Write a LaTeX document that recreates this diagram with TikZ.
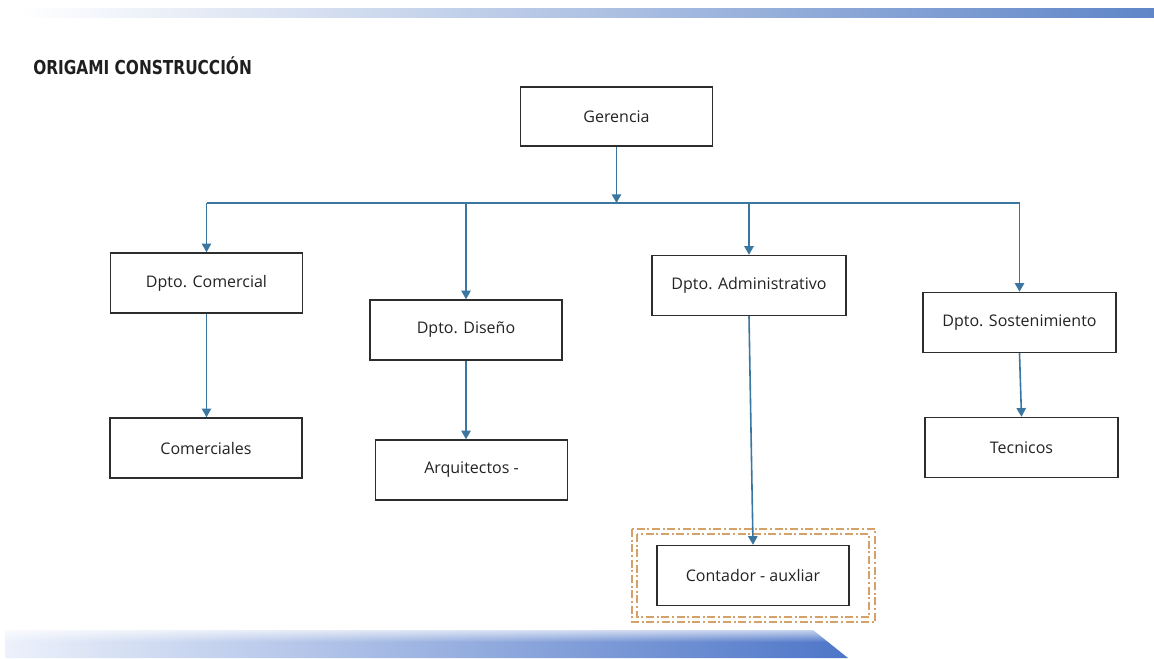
\documentclass[tikz,border=0pt]{standalone}
\usepackage{fontspec}
\setmainfont{Open Sans}
\newfontfamily\titlefont[FakeStretch=0.8]{DejaVu Sans Bold}
\usetikzlibrary{arrows.meta,fadings}
\definecolor{linkblue}{RGB}{58,118,160}
\definecolor{boxline}{RGB}{45,45,45}
\definecolor{txt}{RGB}{35,35,35}
\definecolor{dashorange}{RGB}{214,160,105}
\definecolor{bandlight}{RGB}{236,241,251}
\definecolor{bandblue}{RGB}{78,118,200}
\definecolor{barmid}{RGB}{205,215,236}
\definecolor{barblue}{RGB}{96,134,200}
\tikzfading[name=fadetop, top color=transparent!0, bottom color=transparent!100]
\begin{document}
\begin{tikzpicture}[x=0.75pt,y=-0.75pt,
  orgbox/.style={draw=boxline, line width=1.1pt, fill=white, minimum width=144pt,
    minimum height=45pt, inner sep=0pt, text=txt, font=\fontsize{12}{14}\selectfont},
  link/.style={draw=linkblue, line width=1.2pt, -{Triangle[length=6.5pt,width=7pt]}},
  busline/.style={draw=linkblue, line width=1.2pt},
  dashframe/.style={draw=dashorange, line width=0.8pt, dash pattern=on 6pt off 2pt on 1.5pt off 2pt}]
\useasboundingbox (0,0) rectangle (1154,658);
\fill[white] (0,0) rectangle (1154,658);
% decorative bands
\shade[left color=white, middle color=barmid, right color=barblue] (20,8) rectangle (1154,17);
\shade[left color=bandlight, right color=bandblue] (5,630) -- (813,630) -- (848,658) -- (5,658) -- cycle;
\fill[white, path fading=fadetop] (0,624) rectangle (860,642);
% title
\node[anchor=base west, inner sep=0pt, text=black!88, font=\titlefont\fontsize{14.4}{16}\selectfont] (title) at (33,74) {ORIGAMI CONSTRUCCIÓN};
% frame around Contador
\draw[dashframe] (632,529) rectangle (875,622);
\draw[dashframe] (637,534) rectangle (869,617);
% boxes
\node[orgbox, minimum height=44.25pt] (ger) at (616.5,116.5) {Gerencia};
\node[orgbox] (com) at (206.5,283) {Dpto. Comercial};
\node[orgbox] (dis) at (466,330) {Dpto. Diseño};
\node[orgbox, minimum width=145.5pt] (adm) at (749,285.5) {Dpto. Administrativo};
\node[orgbox, minimum width=145pt] (sos) at (1019.5,322.5) {Dpto. Sostenimiento};
\node[orgbox] (coms) at (206,448) {Comerciales};
\node[orgbox] (arq) at (471.5,470) {Arquitectos -};
\node[orgbox, minimum width=145pt] (tec) at (1021.5,447.5) {Tecnicos};
\node[orgbox] (con) at (753,575.5) {Contador - auxliar};
% connectors
\coordinate (bus) at (616,203);
\draw[busline] (com.north |- bus) -- (sos.north |- bus);
\draw[link] (ger.south) -- (ger.south |- bus);
\draw[link] (com.north |- bus) -- (com.north);
\draw[link] (dis.north |- bus) -- (dis.north);
\draw[link] (adm.north |- bus) -- (adm.north);
\draw[link] (sos.north |- bus) -- (sos.north);
\draw[link] (com.south) -- (com.south |- coms.north);
\draw[link] (dis.south) -- (dis.south |- arq.north);
\draw[link] (adm.south) -- (con.north);
\draw[link] (sos.south) -- (tec.north);
\end{tikzpicture}
\end{document}
